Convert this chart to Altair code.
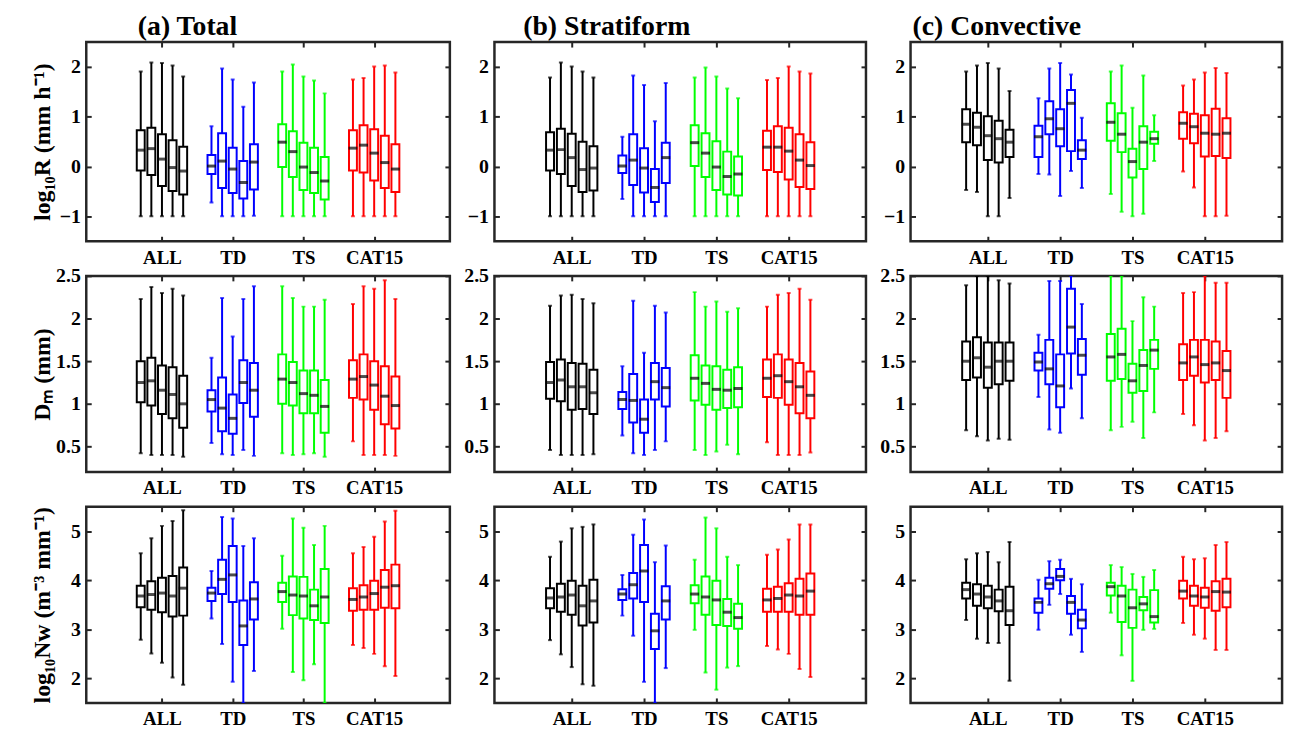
import altair as alt
import pandas as pd

GROUPS = ["ALL", "TD", "TS", "CAT15"]
COLORS = ["#000000", "#0000ff", "#00ff00", "#ff0000"]
TICK_LABELS = ["", "ALL", "TD", "TS", "CAT15"]

# each tuple: (lower whisker, q1, median, q3, upper whisker); 5 boxes per group
R_TOTAL = [
    (-1.0, -0.08, 0.33, 0.73, 1.91), (-1.0, -0.17, 0.36, 0.78, 2.09), (-1.0, -0.39, 0.15, 0.65, 2.08),
    (-1.0, -0.49, -0.02, 0.53, 2.03), (-1.0, -0.56, -0.09, 0.40, 1.81),
    (-0.72, -0.15, 0.01, 0.23, 0.81), (-1.0, -0.43, 0.11, 0.67, 1.97), (-1.0, -0.53, -0.05, 0.38, 1.75),
    (-1.0, -0.64, -0.32, 0.11, 1.20), (-0.99, -0.46, 0.09, 0.45, 1.69),
    (-1.0, -0.01, 0.49, 0.85, 1.91), (-1.0, -0.21, 0.30, 0.71, 2.05), (-1.0, -0.47, -0.01, 0.48, 1.81),
    (-1.0, -0.53, -0.12, 0.38, 1.73), (-1.0, -0.66, -0.29, 0.19, 1.47),
    (-1.0, -0.08, 0.37, 0.73, 1.75), (-1.0, -0.12, 0.43, 0.83, 1.78), (-1.0, -0.28, 0.27, 0.75, 2.01),
    (-1.0, -0.43, 0.08, 0.62, 2.03), (-1.0, -0.51, -0.05, 0.45, 1.89),
]
R_STRAT = [
    (-1.0, -0.08, 0.33, 0.69, 1.79), (-1.0, -0.15, 0.34, 0.76, 2.09), (-1.0, -0.39, 0.18, 0.66, 2.01),
    (-1.0, -0.51, -0.06, 0.50, 1.91), (-1.0, -0.48, -0.03, 0.41, 1.79),
    (-0.65, -0.13, 0.01, 0.22, 0.60), (-1.0, -0.37, 0.13, 0.65, 1.83), (-1.0, -0.52, -0.03, 0.37, 1.64),
    (-1.0, -0.71, -0.42, -0.05, 0.91), (-1.0, -0.33, 0.18, 0.48, 1.68),
    (-1.0, 0.01, 0.48, 0.83, 1.79), (-1.0, -0.21, 0.27, 0.67, 1.99), (-1.0, -0.47, -0.01, 0.51, 1.81),
    (-1.0, -0.56, -0.20, 0.30, 1.57), (-1.0, -0.58, -0.15, 0.20, 1.37),
    (-1.0, -0.07, 0.39, 0.72, 1.74), (-1.0, -0.11, 0.39, 0.81, 1.78), (-1.0, -0.26, 0.31, 0.78, 2.01),
    (-1.0, -0.41, 0.13, 0.65, 1.91), (-1.0, -0.45, 0.02, 0.49, 1.87),
]
R_CONV = [
    (-0.47, 0.49, 0.85, 1.15, 1.91), (-0.51, 0.43, 0.79, 1.08, 2.03), (-1.0, 0.13, 0.62, 1.01, 2.08),
    (-1.0, 0.08, 0.56, 0.92, 1.97), (-0.63, 0.19, 0.49, 0.74, 1.52),
    (-0.15, 0.19, 0.60, 0.82, 1.37), (-0.16, 0.65, 0.96, 1.31, 1.97), (-0.59, 0.41, 0.76, 1.15, 2.08),
    (-0.09, 0.31, 1.27, 1.54, 1.85), (-0.43, 0.15, 0.33, 0.53, 0.98),
    (-0.55, 0.52, 0.89, 1.27, 1.91), (-0.91, 0.29, 0.65, 1.07, 2.03), (-1.0, -0.22, 0.10, 0.36, 1.18),
    (-0.95, -0.05, 0.49, 0.81, 1.83), (0.11, 0.46, 0.56, 0.70, 1.03),
    (-0.10, 0.56, 0.87, 1.09, 1.63), (-0.42, 0.47, 0.80, 1.06, 1.75), (-1.0, 0.20, 0.67, 1.03, 1.89),
    (-1.0, 0.21, 0.65, 1.16, 1.98), (-0.99, 0.17, 0.67, 0.97, 1.88),
]
DM_TOTAL = [
    (0.42, 1.02, 1.25, 1.50, 2.23), (0.40, 0.98, 1.27, 1.54, 2.37), (0.40, 0.88, 1.16, 1.45, 2.30),
    (0.40, 0.83, 1.11, 1.43, 2.35), (0.38, 0.72, 1.00, 1.33, 2.27),
    (0.54, 0.91, 1.05, 1.16, 1.54), (0.41, 0.68, 0.95, 1.31, 2.24), (0.40, 0.65, 0.83, 1.11, 1.79),
    (0.46, 1.01, 1.25, 1.51, 2.23), (0.39, 0.85, 1.16, 1.48, 2.38),
    (0.42, 1.00, 1.29, 1.58, 2.38), (0.40, 0.98, 1.25, 1.49, 2.24), (0.41, 0.89, 1.12, 1.39, 2.14),
    (0.42, 0.89, 1.10, 1.39, 2.14), (0.38, 0.66, 0.97, 1.28, 2.22),
    (0.56, 1.07, 1.29, 1.51, 2.17), (0.40, 1.05, 1.32, 1.58, 2.38), (0.40, 0.93, 1.22, 1.50, 2.35),
    (0.40, 0.76, 1.09, 1.44, 2.45), (0.39, 0.71, 0.98, 1.32, 2.23),
]
DM_STRAT = [
    (0.46, 1.06, 1.25, 1.49, 2.15), (0.40, 1.03, 1.28, 1.52, 2.27), (0.40, 0.93, 1.20, 1.48, 2.28),
    (0.40, 0.94, 1.20, 1.47, 2.23), (0.41, 0.88, 1.13, 1.40, 2.18),
    (0.63, 0.94, 1.05, 1.14, 1.44), (0.42, 0.78, 1.04, 1.35, 2.21), (0.40, 0.66, 0.82, 1.05, 1.60),
    (0.46, 1.05, 1.26, 1.48, 2.15), (0.56, 0.97, 1.19, 1.42, 2.07),
    (0.46, 1.04, 1.30, 1.57, 2.31), (0.40, 0.99, 1.24, 1.45, 2.14), (0.44, 0.93, 1.17, 1.44, 2.20),
    (0.52, 0.95, 1.16, 1.40, 2.08), (0.41, 0.96, 1.18, 1.43, 2.12),
    (0.55, 1.08, 1.30, 1.52, 2.14), (0.40, 1.07, 1.33, 1.58, 2.28), (0.40, 0.99, 1.26, 1.52, 2.30),
    (0.40, 0.89, 1.20, 1.48, 2.35), (0.43, 0.83, 1.10, 1.38, 2.22),
]
DM_CONV = [
    (0.69, 1.28, 1.50, 1.73, 2.39), (0.62, 1.31, 1.54, 1.78, 2.50), (0.57, 1.19, 1.43, 1.72, 2.50),
    (0.59, 1.23, 1.50, 1.72, 2.45), (0.58, 1.27, 1.50, 1.72, 2.41),
    (1.08, 1.39, 1.49, 1.60, 1.81), (0.70, 1.23, 1.41, 1.75, 2.44), (0.66, 0.96, 1.21, 1.58, 2.44),
    (1.18, 1.59, 1.90, 2.35, 2.50), (0.83, 1.34, 1.57, 1.76, 2.17),
    (0.69, 1.27, 1.55, 1.82, 2.50), (0.73, 1.29, 1.58, 1.88, 2.50), (0.79, 1.13, 1.27, 1.47, 1.97),
    (0.60, 1.15, 1.45, 1.63, 2.25), (0.90, 1.41, 1.63, 1.75, 2.14),
    (0.88, 1.28, 1.48, 1.70, 2.30), (0.75, 1.33, 1.55, 1.75, 2.31), (0.57, 1.25, 1.46, 1.75, 2.50),
    (0.60, 1.28, 1.48, 1.73, 2.42), (0.68, 1.07, 1.39, 1.62, 2.42),
]
NW_TOTAL = [
    (2.79, 3.45, 3.68, 3.89, 4.55), (2.51, 3.40, 3.71, 3.98, 4.86), (2.32, 3.35, 3.74, 4.05, 5.11),
    (2.02, 3.26, 3.68, 4.09, 5.21), (1.87, 3.28, 3.84, 4.26, 5.43),
    (3.22, 3.58, 3.74, 3.85, 4.19), (2.70, 3.72, 4.02, 4.42, 5.29), (1.93, 3.56, 4.11, 4.70, 5.26),
    (1.50, 2.68, 3.07, 3.59, 4.70), (2.15, 3.20, 3.62, 3.96, 4.86),
    (3.01, 3.56, 3.77, 3.95, 4.50), (2.13, 3.29, 3.70, 4.08, 5.26), (1.96, 3.22, 3.68, 4.07, 5.07),
    (2.29, 3.19, 3.48, 3.81, 4.72), (1.50, 3.13, 3.66, 4.23, 5.11),
    (2.68, 3.38, 3.61, 3.84, 4.55), (2.62, 3.40, 3.66, 3.90, 4.68), (2.50, 3.40, 3.73, 3.99, 4.89),
    (2.25, 3.44, 3.86, 4.21, 5.20), (2.05, 3.43, 3.89, 4.32, 5.42),
]
NW_STRAT = [
    (2.78, 3.43, 3.64, 3.84, 4.48), (2.49, 3.36, 3.66, 3.93, 4.79), (2.23, 3.30, 3.70, 3.99, 5.06),
    (1.88, 3.08, 3.48, 3.89, 5.09), (1.85, 3.14, 3.58, 4.01, 5.14),
    (3.28, 3.60, 3.72, 3.82, 4.11), (2.87, 3.63, 3.91, 4.15, 4.93), (1.93, 3.56, 4.19, 4.72, 5.24),
    (1.50, 2.60, 2.97, 3.32, 4.37), (2.21, 3.20, 3.58, 3.88, 4.71),
    (2.99, 3.53, 3.72, 3.90, 4.42), (2.12, 3.30, 3.66, 4.08, 5.28), (1.77, 3.09, 3.60, 3.99, 5.06),
    (2.22, 3.07, 3.35, 3.62, 4.48), (2.25, 3.01, 3.24, 3.52, 4.31),
    (2.66, 3.36, 3.60, 3.83, 4.52), (2.59, 3.36, 3.63, 3.87, 4.63), (2.50, 3.36, 3.70, 3.94, 4.83),
    (2.19, 3.30, 3.68, 4.03, 5.14), (2.03, 3.30, 3.78, 4.14, 5.14),
]
NW_CONV = [
    (3.19, 3.63, 3.81, 3.95, 4.43), (2.81, 3.48, 3.72, 3.92, 4.55), (2.72, 3.43, 3.66, 3.89, 4.58),
    (2.72, 3.37, 3.58, 3.81, 4.37), (1.95, 3.09, 3.38, 3.87, 4.78),
    (2.99, 3.34, 3.55, 3.63, 4.01), (3.50, 3.83, 3.93, 4.05, 4.39), (3.72, 4.00, 4.08, 4.23, 4.42),
    (2.89, 3.32, 3.55, 3.68, 4.03), (2.54, 3.02, 3.19, 3.40, 3.92),
    (3.34, 3.69, 3.87, 3.95, 4.31), (2.47, 3.15, 3.68, 3.89, 4.27), (1.95, 3.03, 3.44, 3.81, 4.13),
    (2.99, 3.39, 3.52, 3.66, 4.07), (3.01, 3.14, 3.26, 3.80, 4.21),
    (3.13, 3.63, 3.78, 3.99, 4.48), (2.89, 3.48, 3.68, 3.89, 4.43), (2.81, 3.44, 3.66, 3.85, 4.45),
    (2.58, 3.38, 3.77, 3.98, 4.72), (2.58, 3.45, 3.76, 4.03, 4.78),
]

Y_DOMAINS = [[-1.5, 2.5], [0.2, 2.5], [1.5, 5.5]]
Y_TICKS = [[-1, 0, 1, 2], [0.5, 1, 1.5, 2, 2.5], [2, 3, 4, 5]]
Y_TITLES = ["log\u2081\u2080R (mm h\u207b\u00b9)", "D\u2098 (mm)", "log\u2081\u2080Nw (m\u207b\u00b3 mm\u207b\u00b9)"]
COL_TITLES = ["(a) Total", "(b) Stratiform", "(c) Convective"]
TITLE_DX = [52, 29, 2]
WIDTHS = [367, 375, 375]
HEIGHTS = [201, 198, 198]
BOX_OFFSETS = [-0.3, -0.15, 0.0, 0.15, 0.3]

FONT = "Liberation Serif"
DARK = "#262626"


def make_df(stats):
    rows = []
    for i, (lo, q1, med, q3, hi) in enumerate(stats):
        g, k = divmod(i, 5)
        rows.append(dict(group=GROUPS[g], x=g + 1 + BOX_OFFSETS[k],
                         lo=lo, q1=q1, med=med, q3=q3, hi=hi))
    return pd.DataFrame(rows)


def panel(stats, r, c):
    df = make_df(stats)
    xs = alt.Scale(domain=[0, 5], nice=False, zero=False)
    ys = alt.Scale(domain=Y_DOMAINS[r], nice=False, zero=False)
    col = alt.Color("group:N", scale=alt.Scale(domain=GROUPS, range=COLORS), legend=None)
    stk = alt.Stroke("group:N", scale=alt.Scale(domain=GROUPS, range=COLORS), legend=None)

    x_bottom = alt.Axis(values=[1, 2, 3, 4], orient="bottom", offset=-5, tickSize=5,
                        domain=False, grid=False, title=None, labelPadding=7,
                        labelExpr="['','ALL','TD','TS','CAT15'][datum.value]",
                        labelFontSize=19)
    x_top = alt.Axis(values=[1, 2, 3, 4], orient="top", offset=-5, tickSize=5,
                     domain=False, grid=False, title=None, labels=False)
    y_left = alt.Axis(values=Y_TICKS[r], orient="left", offset=-5, tickSize=5,
                      domain=False, grid=False, format="~g", labelPadding=6,
                      labelFontSize=20,
                      title=Y_TITLES[r] if c == 0 else None,
                      titleFontSize=24, titleX=-37)
    y_right = alt.Axis(values=Y_TICKS[r], orient="right", offset=-5, tickSize=5,
                       domain=False, grid=False, title=None, labels=False)

    base = alt.Chart(df)
    whisk = base.mark_rule(strokeWidth=2, clip=True).encode(
        x=alt.X("x:Q", scale=xs, axis=x_bottom),
        y=alt.Y("lo:Q", scale=ys, axis=y_left),
        y2="hi:Q",
        color=col,
    )
    box = base.mark_bar(size=8, fill="white", strokeWidth=2, clip=True).encode(
        x=alt.X("x:Q", scale=xs, axis=x_top),
        y=alt.Y("q1:Q", scale=ys, axis=y_right),
        y2="q3:Q",
        stroke=stk,
    )
    med = base.mark_tick(size=9, thickness=3, color="black", orient="horizontal").encode(
        x=alt.X("x:Q", scale=xs, axis=None),
        y=alt.Y("med:Q", scale=ys, axis=None),
    )
    cap_hi = base.mark_tick(size=4, thickness=2, orient="horizontal", clip=True).encode(
        x=alt.X("x:Q", scale=xs, axis=None),
        y=alt.Y("hi:Q", scale=ys, axis=None),
        color=col,
    )
    cap_lo = base.mark_tick(size=4, thickness=2, orient="horizontal", clip=True).encode(
        x=alt.X("x:Q", scale=xs, axis=None),
        y=alt.Y("lo:Q", scale=ys, axis=None),
        color=col,
    )
    props = dict(width=WIDTHS[c], height=HEIGHTS[r])
    if r == 0:
        props["title"] = alt.TitleParams(COL_TITLES[c], anchor="start", frame="group",
                                         dx=TITLE_DX[c], fontSize=28, font=FONT,
                                         fontWeight="bold", color="black", offset=0)
    return (alt.layer(whisk, box, med, cap_hi, cap_lo)
            .resolve_axis(x="independent", y="independent")
            .properties(**props))


DATA = [[R_TOTAL, R_STRAT, R_CONV], [DM_TOTAL, DM_STRAT, DM_CONV], [NW_TOTAL, NW_STRAT, NW_CONV]]

panels = [panel(DATA[r][c], r, c) for r in range(3) for c in range(3)]

chart = alt.concat(*panels, columns=3, spacing={"row": 35, "column": 45}, bounds="flush").configure_view(
    stroke=DARK, strokeWidth=2.5
).configure_axis(
    labelFont=FONT, labelFontWeight="bold", labelColor="black",
    titleFont=FONT, titleFontWeight="bold", titleColor="black",
    tickColor=DARK, tickWidth=2,
).properties(padding={"left": 21, "top": 0, "right": 5, "bottom": 5})

chart.save("out.html", embed_options={"renderer": "svg", "actions": False})
